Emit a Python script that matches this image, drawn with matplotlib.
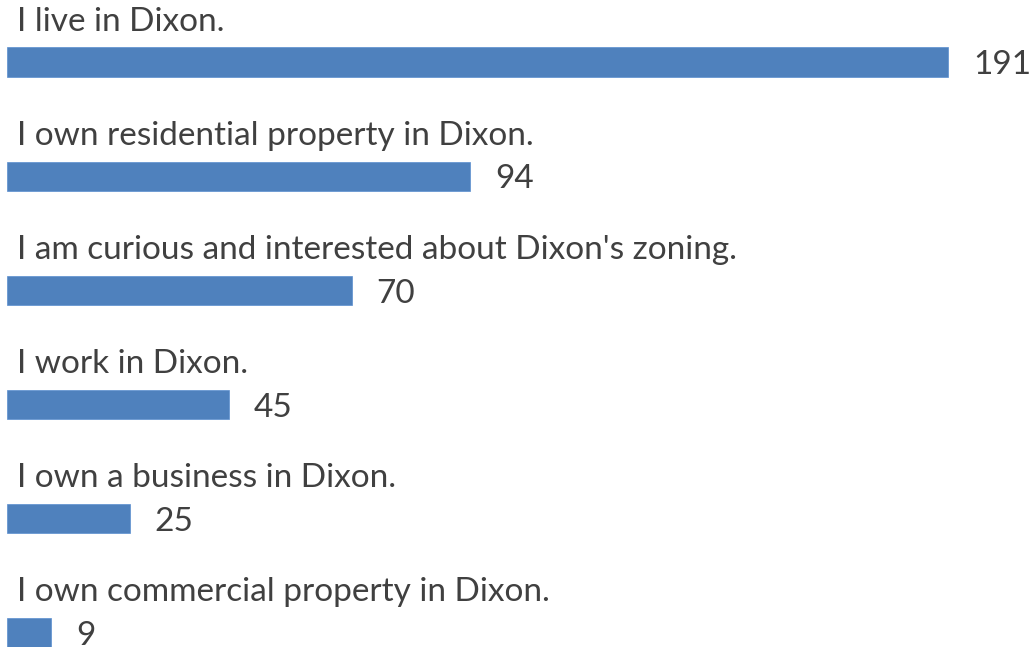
import matplotlib.pyplot as plt

labels = ["I live in Dixon.",
          "I own residential property in Dixon.",
          "I am curious and interested about Dixon's zoning.",
          "I work in Dixon.",
          "I own a business in Dixon.",
          "I own commercial property in Dixon."]
counts = [191, 94, 70, 45, 25, 9]

plt.rcParams['font.family'] = ['Lato', 'DejaVu Sans']

fig = plt.figure(figsize=(10.32, 6.47), dpi=100)
ax = fig.add_axes([0, 0, 1, 1])

pos = list(range(len(counts)))
ax.barh(pos, counts, height=0.255, color='#4f81bd', edgecolor='#5b8fd0', linewidth=0.5)

for i, (lab, v) in enumerate(zip(labels, counts)):
    ax.text(2.0, i - 0.35, lab, fontsize=24, color='#404040', va='center', ha='left')
    ax.text(v + 5, i + 0.03, str(v), fontsize=24, color='#404040', va='center', ha='left')

ax.set_xlim(-1.42, 208.0)
ax.set_ylim(5.13, -0.544)
ax.axis('off')

fig.savefig('out.png', dpi=100)
